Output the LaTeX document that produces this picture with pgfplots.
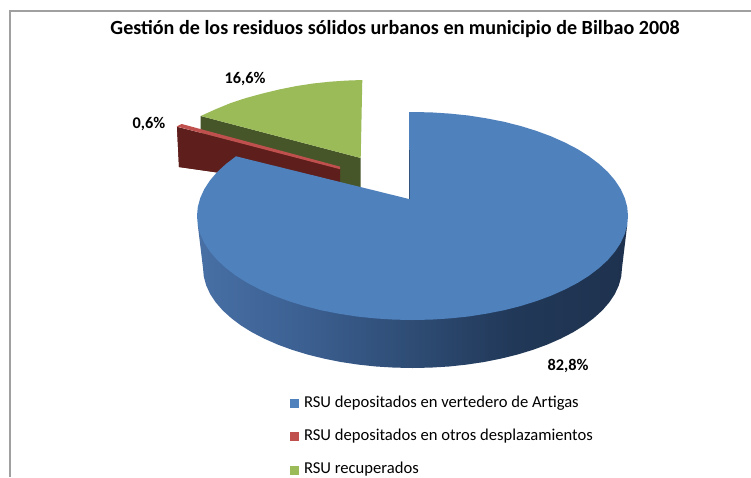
\documentclass[border=0pt]{standalone}
\usepackage{pgfplots}
\pgfplotsset{compat=1.18}
\usepackage{fontspec}
\setmainfont{Carlito}
\definecolor{blueT}{RGB}{79,129,189}
\definecolor{blueE}{RGB}{50,84,125}
\definecolor{redT}{RGB}{192,80,77}
\definecolor{redS}{RGB}{94,30,27}
\definecolor{greenT}{RGB}{155,187,89}
\definecolor{greenS}{RGB}{70,86,40}
\definecolor{frameC}{RGB}{160,160,160}
\definecolor{blueSa}{RGB}{72,112,165}
\definecolor{blueSb}{RGB}{60,96,146}
\definecolor{blueSc}{RGB}{46,76,116}
\definecolor{blueSd}{RGB}{33,56,88}
\definecolor{blueSe}{RGB}{30,50,78}
\pgfdeclarehorizontalshading{sidegrad}{100bp}{
 color(0bp)=(blueSa);
 color(25bp)=(blueSa);
 color(37bp)=(blueSb);
 color(50bp)=(blueSc);
 color(62bp)=(blueSd);
 color(75bp)=(blueSe);
 color(100bp)=(blueSe)}
\begin{document}
\begin{tikzpicture}
\begin{axis}[
  scale only axis, width=751pt, height=477pt,
  xmin=0, xmax=751, ymin=0, ymax=477, y dir=reverse,
  axis lines=none, clip=true,
  legend cell align=left,
  legend style={at={(axis cs:290,396)},anchor=north west,draw=none,fill=none,
    font=\fontsize{16.6}{17}\selectfont, row sep=18.9pt, inner sep=0pt, outer sep=0pt,
    nodes={inner sep=0pt, text height=11pt, text depth=3.5pt}},
  legend image code/.code={\fill[#1] (0pt,-4.5pt) rectangle (9pt,4.5pt); \path (14pt,0pt);},
]
% page extent
\addplot[fill=white, draw=none, forget plot] coordinates {(0,0) (751,0) (751,477) (0,477)} --cycle;
% frame
\addplot[draw=frameC, line width=1.4pt, forget plot] coordinates {(9.8,477) (9.8,11) (751,11)};
% red slice
\addplot[fill=redS, draw=none, forget plot] coordinates {(177,127) (340,168) (340,190) (179,167)} --cycle;
% green side
\addplot[fill=greenS, draw=none, forget plot] coordinates {(200.7,116) (360.7,158) (360.7,190) (200.7,133)} --cycle;
% red side again above the green one
\addplot[fill=redS, draw=none, forget plot] coordinates {(177,127) (340,168) (340,190) (179,167)} --cycle;
\addplot[fill=redT, draw=none, forget plot] coordinates {(176.7,126.5) (181.7,124) (340,166.6) (340,169.2)} --cycle;
% green top
\addplot[fill=greenT, draw=none, forget plot] coordinates {(360.7,158) (362.3,80) (346,80.6) (330,81.7) (313,83.5) (296.7,86) (280,89.3) (263.3,93.3) (246,98) (230,103.3) (215,109.5) (200.7,116)} --cycle;
% blue side
\addplot[shading=sidegrad, shading angle=0, draw=none, forget plot] coordinates {
 (197.8,225.1) (203,268) (203.8,276.7) (206.2,285.4) (210.1,293.9) (215.6,302.2) (222.6,310.3) (231.1,318) (240.9,325.4) (252,332.3) (264.4,338.7) (277.8,344.6) (292.3,349.9) (307.8,354.6) (324,358.6) (340.9,362) (358.3,364.6) (376.1,366.5) (394.2,367.6) (412.5,368) (430.8,367.6) (448.9,366.5) (466.7,364.6) (484.1,362) (501,358.6) (517.3,354.6) (532.7,349.9) (547.2,344.6) (560.6,338.7) (573,332.3) (584.1,325.4) (593.9,318) (602.4,310.3) (609.4,302.2) (614.9,293.9) (618.8,285.4) (621.2,276.7) (622,268) (627.2,225.1) (412,216)} --cycle;
% blue top
\addplot[fill=blueT, draw=none, forget plot] coordinates {
 (409,112) (412.5,112) (431.3,112.4) (449.9,113.6) (468.3,115.5) (486.2,118.3) (503.6,121.7) (520.3,125.9) (536.1,130.8) (551,136.3) (564.9,142.5) (577.6,149.1) (589,156.3) (599.1,164) (607.8,172) (615,180.4) (620.7,189.1) (624.7,197.9) (627.2,206.9) (628,216) (627.2,225.1) (624.7,234.1) (620.7,242.9) (615,251.6) (607.8,260) (599.1,268) (589,275.7) (577.6,282.9) (564.9,289.5) (551,295.7) (536.1,301.2) (520.3,306.1) (503.6,310.3) (486.2,313.7) (468.3,316.5) (449.9,318.4) (431.3,319.6) (412.5,320) (393.7,319.6) (375.1,318.4) (356.7,316.5) (338.8,313.7) (321.4,310.3) (304.8,306.1) (288.9,301.2) (274,295.7) (260.1,289.5) (247.4,282.9) (236,275.7) (225.9,268) (217.2,260) (210,251.6) (204.3,242.9) (200.3,234.1) (197.8,225.1) (197,216) (197.8,206.9) (200.3,197.9) (204.3,189.1) (210,180.4) (217.2,172) (225.9,164) (236,156.3) (409,199)} --cycle;
% blue inner edge
\addplot[draw=blueE, line width=0.9pt, forget plot] coordinates {(409.3,150) (409.3,199)};
% legend
\addlegendimage{fill=blueT,draw=none}
\addlegendentry{RSU depositados en vertedero de Artigas}
\addlegendimage{fill=redT,draw=none}
\addlegendentry{RSU depositados en otros desplazamientos}
\addlegendimage{fill=greenT,draw=none}
\addlegendentry{RSU recuperados}
% texts
\node[font=\fontsize{20.1}{21}\selectfont\bfseries] at (axis cs:395,29.5) {Gestión de los residuos sólidos urbanos en municipio de Bilbao 2008};
\node[font=\fontsize{16.3}{17}\selectfont\bfseries] at (axis cs:245,79) {16,6\%};
\node[font=\fontsize{16.3}{17}\selectfont\bfseries] at (axis cs:149,124) {0,6\%};
\node[font=\fontsize{16.3}{17}\selectfont\bfseries] at (axis cs:568,365.5) {82,8\%};
\end{axis}
\end{tikzpicture}
\end{document}
